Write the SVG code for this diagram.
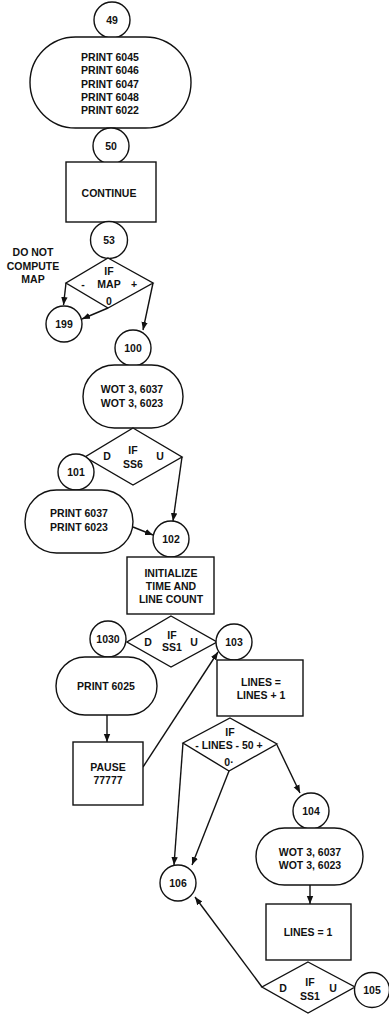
<svg xmlns="http://www.w3.org/2000/svg" width="389" height="1014" viewBox="0 0 389 1014">
<style>
.s{fill:#fff;stroke:#111;stroke-width:1.4}
.t{font-family:"Liberation Sans",Arial,sans-serif;font-size:10.5px;font-weight:bold;fill:#111;text-anchor:middle}
.c{fill:none;stroke:#111;stroke-width:1.4}
</style>
<defs>
<marker id="ah" markerUnits="userSpaceOnUse" markerWidth="9" markerHeight="8" refX="8" refY="4" orient="auto">
<path d="M0,0.8 L8,4 L0,7.2 Z" fill="#111"/>
</marker>
</defs>
<rect width="389" height="1014" fill="#fff"/>

<g id="connectors">
<line class="c" x1="66" y1="283" x2="63.5" y2="305" marker-end="url(#ah)"/>
<line class="c" x1="108" y1="308" x2="82" y2="319" marker-end="url(#ah)"/>
<line class="c" x1="153" y1="283" x2="143" y2="330" marker-end="url(#ah)"/>
<line class="c" x1="182" y1="457" x2="173" y2="521" marker-end="url(#ah)"/>
<line class="c" x1="133" y1="527" x2="153" y2="535" marker-end="url(#ah)"/>
<line class="c" x1="107" y1="715" x2="107" y2="742" marker-end="url(#ah)"/>
<line class="c" x1="143" y1="767" x2="218" y2="652" marker-end="url(#ah)"/>
<line class="c" x1="183" y1="743" x2="174" y2="865" marker-end="url(#ah)"/>
<line class="c" x1="229" y1="771" x2="192" y2="865" marker-end="url(#ah)"/>
<line class="c" x1="277" y1="745" x2="300" y2="793" marker-end="url(#ah)"/>
<line class="c" x1="310" y1="885" x2="310" y2="904" marker-end="url(#ah)"/>
<line class="c" x1="262" y1="987" x2="195" y2="897" marker-end="url(#ah)"/>
</g>

<g id="n49"><circle class="s" cx="112" cy="20" r="18"/><text class="t" x="112" y="24">49</text></g>
<g id="print1"><rect class="s" x="30" y="37" width="161" height="91" rx="45.5"/>
<text class="t" x="110" y="61">PRINT 6045</text>
<text class="t" x="110" y="74">PRINT 6046</text>
<text class="t" x="110" y="88">PRINT 6047</text>
<text class="t" x="110" y="101">PRINT 6048</text>
<text class="t" x="110" y="114">PRINT 6022</text></g>
<g id="n50"><circle class="s" cx="111" cy="146" r="18"/><text class="t" x="111" y="150">50</text></g>
<g id="continue"><rect class="s" x="66" y="162" width="90" height="60"/><text class="t" x="109" y="197">CONTINUE</text></g>
<g id="n53"><circle class="s" cx="109" cy="240" r="18.5"/><text class="t" x="109" y="244">53</text></g>
<g id="note"><text class="t" x="33" y="256">DO NOT</text><text class="t" x="33" y="270">COMPUTE</text><text class="t" x="33" y="283">MAP</text></g>
<g id="ifmap"><polygon class="s" points="108,258 153,283 108,308 66,283"/>
<text class="t" x="109" y="275">IF</text><text class="t" x="109" y="288">MAP</text>
<text class="t" x="83" y="288">-</text><text class="t" x="134" y="288">+</text><text class="t" x="109" y="305">0</text></g>
<g id="n199"><circle class="s" cx="64" cy="324" r="18"/><text class="t" x="64" y="328">199</text></g>
<g id="n100"><circle class="s" cx="133" cy="348" r="18"/><text class="t" x="133" y="352">100</text></g>
<g id="wot1"><rect class="s" x="83" y="365" width="100" height="63" rx="31.5"/>
<text class="t" x="132" y="393">WOT 3, 6037</text><text class="t" x="132" y="407">WOT 3, 6023</text></g>
<g id="ifss6"><polygon class="s" points="133,428 182,457 133,485 85,457"/>
<text class="t" x="107" y="460">D</text><text class="t" x="133" y="454">IF</text><text class="t" x="133" y="468">SS6</text><text class="t" x="160" y="460">U</text></g>
<g id="n101"><circle class="s" cx="76" cy="472" r="18"/><text class="t" x="76" y="476">101</text></g>
<g id="print2"><rect class="s" x="25" y="490" width="108" height="63" rx="31.5"/>
<text class="t" x="79" y="517">PRINT 6037</text><text class="t" x="79" y="531">PRINT 6023</text></g>
<g id="n102"><circle class="s" cx="171" cy="539" r="18"/><text class="t" x="171" y="543">102</text></g>
<g id="init"><rect class="s" x="127" y="557" width="87" height="57"/>
<text class="t" x="171" y="577">INITIALIZE</text><text class="t" x="171" y="590">TIME AND</text><text class="t" x="171" y="603">LINE COUNT</text></g>
<g id="ifss1a"><polygon class="s" points="171,616 217,642 171,667 127,642"/>
<text class="t" x="148" y="646">D</text><text class="t" x="172" y="639">IF</text><text class="t" x="172" y="651">SS1</text><text class="t" x="194" y="646">U</text></g>
<g id="n1030"><circle class="s" cx="108" cy="639" r="18"/><text class="t" x="108" y="643">1030</text></g>
<g id="n103"><circle class="s" cx="234" cy="642" r="18"/><text class="t" x="234" y="646">103</text></g>
<g id="print3"><rect class="s" x="56" y="657" width="101" height="58" rx="29"/><text class="t" x="106" y="690">PRINT 6025</text></g>
<g id="pause"><rect class="s" x="73" y="742" width="70" height="63"/>
<text class="t" x="108" y="771">PAUSE</text><text class="t" x="108" y="784">77777</text></g>
<g id="linesinc"><rect class="s" x="217" y="660" width="86" height="56"/>
<text class="t" x="261" y="686">LINES =</text><text class="t" x="261" y="699">LINES + 1</text></g>
<g id="iflines"><polygon class="s" points="230,718 277,744 229,771 183,743"/>
<text class="t" x="230" y="736">IF</text><text class="t" x="229" y="749">- LINES - 50 +</text><text class="t" x="229" y="766">0·</text></g>
<g id="n104"><circle class="s" cx="311" cy="811" r="18"/><text class="t" x="311" y="815">104</text></g>
<g id="wot2"><rect class="s" x="256" y="828" width="107" height="57" rx="28.5"/>
<text class="t" x="310" y="856">WOT 3, 6037</text><text class="t" x="310" y="869">WOT 3, 6023</text></g>
<g id="n106"><circle class="s" cx="178" cy="883" r="18"/><text class="t" x="178" y="887">106</text></g>
<g id="lines1"><rect class="s" x="266" y="904" width="85" height="56"/><text class="t" x="308" y="936">LINES = 1</text></g>
<g id="ifss1b"><polygon class="s" points="308,962 355,987 308,1013 262,987"/>
<text class="t" x="283" y="992">D</text><text class="t" x="310" y="986">IF</text><text class="t" x="310" y="1000">SS1</text><text class="t" x="333" y="992">U</text></g>
<g id="n105"><circle class="s" cx="372" cy="990" r="17.5"/><text class="t" x="372" y="994">105</text></g>
</svg>
